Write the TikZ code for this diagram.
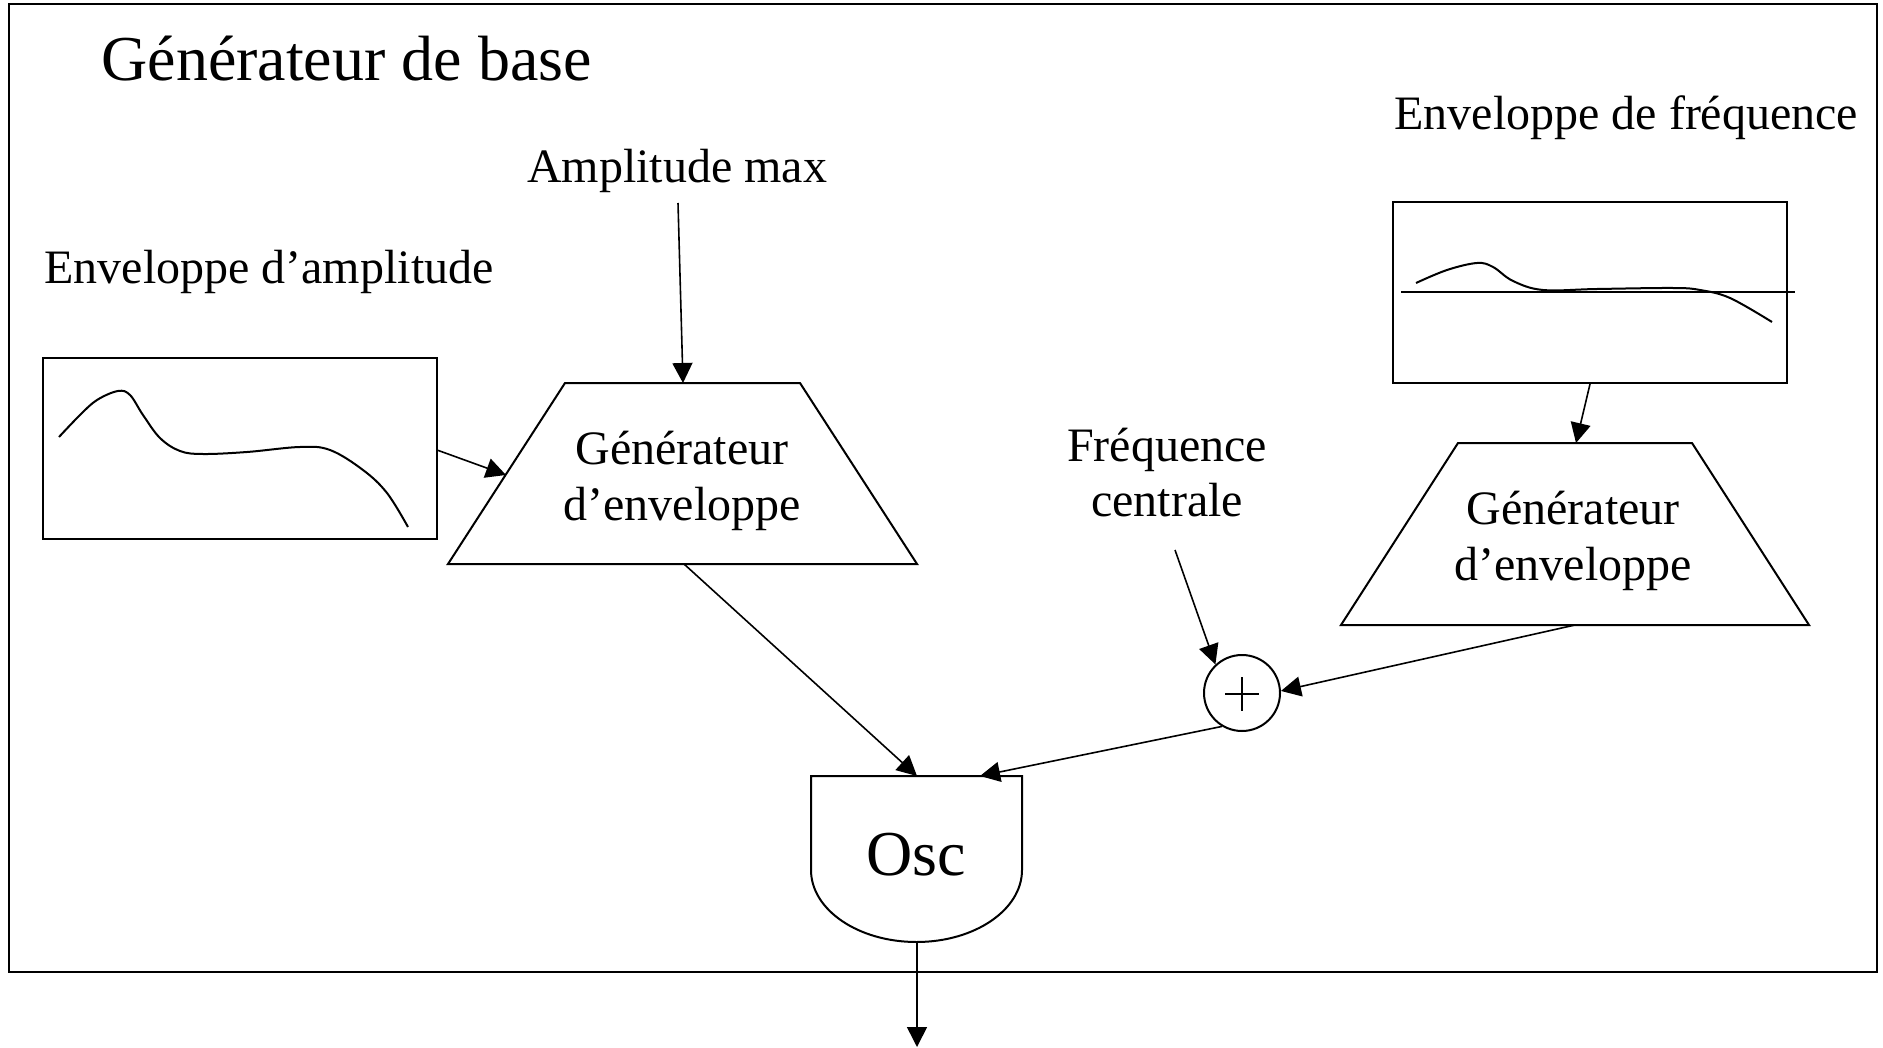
\documentclass[tikz,border=0pt]{standalone}
\usepackage{fontspec}
\setmainfont{Liberation Serif}
\usetikzlibrary{arrows.meta}
\begin{document}
\begin{tikzpicture}[x=0.5pt,y=-0.5pt,
  shp/.style={line width=1pt},
  conn/.style={line width=0.8pt,-{Triangle[length=10pt,width=10pt]}},
  curve/.style={line width=1pt,smooth,tension=0.6},
  lbl/.style={inner sep=0pt,font=\fontsize{24}{28}\selectfont},
  big/.style={inner sep=0pt,font=\fontsize{32}{38}\selectfont}]
\useasboundingbox (0,0) rectangle (1883,1048);
% outer frame
\draw[line width=1.2pt] (9,4) rectangle (1877,972);
% texts
\node[big,anchor=base west] (title) at (101,81) {Générateur de base};
\node[lbl,anchor=base west] (envf) at (1394,130) {Enveloppe de fréquence};
\node[lbl,anchor=base] (amp) at (677,183) {Amplitude max};
\node[lbl,anchor=base west] (enva) at (44,284) {Enveloppe d’amplitude};
\node[lbl,anchor=base] (fc1) at (1167,461) {Fréquence};
\node[lbl,anchor=base] (fc2) at (1167,516) {centrale};
% left envelope box
\node[draw,shp,minimum width=197pt,minimum height=90.5pt,inner sep=0pt] (lbox) at (240,448.5) {};
\draw[curve] plot coordinates {(59,437) (80,415) (97,400) (118,391) (130,395) (143,415) (160,438) (180,451) (203,454) (247,452) (300,447) (330,450) (363,470) (387,493) (408,527)};
% right envelope box
\node[draw,shp,minimum width=197pt,minimum height=90.5pt,inner sep=0pt] (rbox) at (1590,292.5) {};
\draw[shp] (1401,292) -- (1795,292);
\draw[curve] plot coordinates {(1416,283) (1447,270) (1477,263) (1493,267) (1513,281) (1543,290) (1597,289) (1673,288) (1700,290) (1730,298) (1772,322)};
% trapezoid 1
\draw[shp] (565,383) -- (800,383) -- (917,564) -- (448,564) -- cycle;
\node[lbl,anchor=base] (g1a) at (682,464) {Générateur};
\node[lbl,anchor=base] (g1b) at (682,520) {d’enveloppe};
\coordinate (t1top) at (683,383);
\coordinate (t1left) at (506,475);
\coordinate (t1bot) at (684,564);
% trapezoid 2
\draw[shp] (1458,443) -- (1692,443) -- (1809,625) -- (1341,625) -- cycle;
\node[lbl,anchor=base] (g2a) at (1573,524) {Générateur};
\node[lbl,anchor=base] (g2b) at (1573,580) {d’enveloppe};
\coordinate (t2top) at (1576,443);
\coordinate (t2bot) at (1575,625);
% adder
\node[draw,shp,circle,minimum size=38pt,inner sep=0pt] (plus) at (1242,693) {};
\draw[line width=1.3pt] (1225,694) -- (1259,694) (1242,677) -- (1242,711);
% oscillator
\draw[shp] (811,776) -- (1022,776) -- (1022,870) arc[start angle=0,end angle=-180,x radius=52.75pt,y radius=36pt] -- cycle;
\node[big,anchor=base] (osc) at (916,875) {Osc};
\coordinate (osctop1) at (917,776);
\coordinate (osctop2) at (980,776);
\coordinate (oscbot) at (917,942);
\coordinate (out) at (917,1047);
% connector start points
\coordinate (amstart) at (678,203);
\coordinate (fcstart) at (1175,550);
\coordinate (lboxout) at (437,450);
% connectors
\draw[conn] (amstart) -- (t1top);
\draw[conn] (lboxout) -- (t1left);
\draw[conn] (t1bot) -- (osctop1);
\draw[conn] (rbox.south) -- (t2top);
\draw[conn] (t2bot) -- (plus.3);
\draw[conn] (fcstart) -- (plus.133);
\draw[conn] (plus.-121) -- (osctop2);
\draw[conn] (oscbot) -- (out);
\end{tikzpicture}
\end{document}
